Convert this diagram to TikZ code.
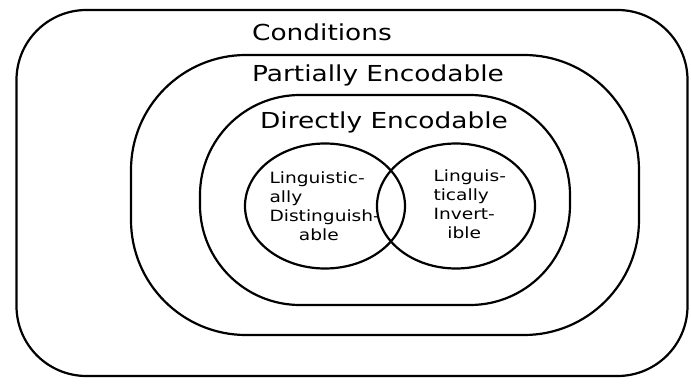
\documentclass[tikz,border=0pt]{standalone}
\usepackage{fontspec}
\setmainfont{DejaVu Sans}
\newfontfamily\handfont[FakeStretch=1.2]{DejaVu Sans}
\usetikzlibrary{shapes.geometric}
\begin{document}
\begin{tikzpicture}[x=1pt,y=-1pt,
  region/.style={draw=black,line width=2.2pt},
  label/.style={font=\handfont\fontsize{22}{24}\selectfont},
  small/.style={font=\handfont\fontsize{15.5}{19}\selectfont,align=left}]
\useasboundingbox (0,0) rectangle (691,385);
\node[region,rectangle,rounded corners=70pt,minimum width=671pt,minimum height=366pt] (cond) at (352,193) {};
\node[region,rectangle,rounded corners=115pt,minimum width=508pt,minimum height=280pt] (part) at (385,195) {};
\node[region,rectangle,rounded corners=100pt,minimum width=370pt,minimum height=210pt] (dir) at (385,200) {};
\node[region,ellipse,minimum width=160pt,minimum height=125pt] (ld) at (325,206) {};
\node[region,ellipse,minimum width=158pt,minimum height=125pt] (li) at (456,206) {};
\node[label] (tcond) at (322,32) {Conditions};
\node[label] (tpart) at (378,75) {Partially Encodable};
\node[label] (tdir) at (384,122) {Directly Encodable};
\node[small,anchor=north west] (tld) at (266,168) {Linguistic-\\ally\\Distinguish-\\\hspace*{1.9em}able};
\node[small,anchor=north west] (tli) at (430,166) {Linguis-\\tically\\Invert-\\\hspace*{0.9em}ible};
\end{tikzpicture}
\end{document}
